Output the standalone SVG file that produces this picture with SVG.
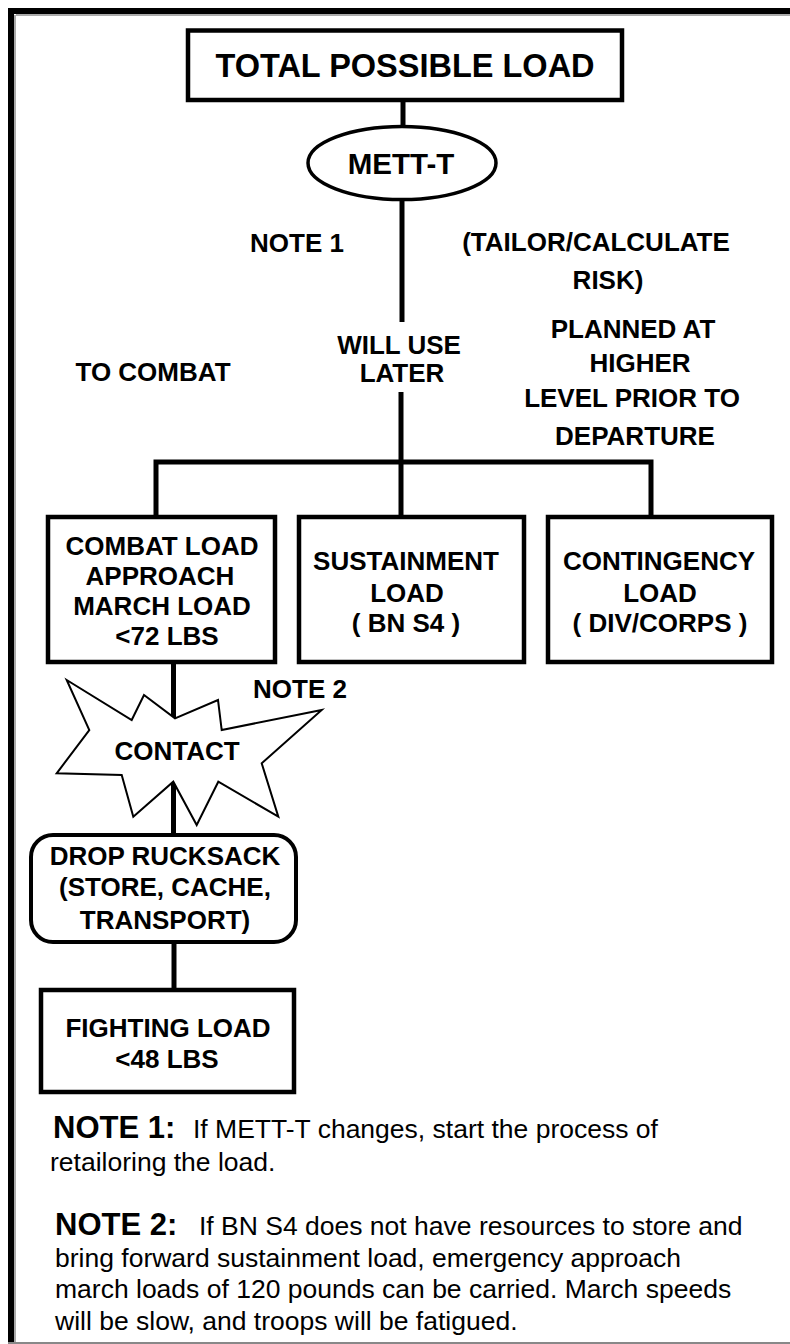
<svg xmlns="http://www.w3.org/2000/svg" width="790" height="1344" viewBox="0 0 790 1344">
<style>
.bx{fill:#fff;stroke:#000;stroke-width:4.5}
.cn{stroke:#000;stroke-width:5;fill:none}
.lb{font-family:"Liberation Sans",Arial,sans-serif;font-weight:bold;font-size:26px;fill:#000;text-anchor:middle}
.nt{font-family:"Liberation Sans",Arial,sans-serif;font-size:26.5px;fill:#000}
.nh{font-weight:bold;font-size:31px}
</style>
<rect width="790" height="1344" fill="#fff"/>
<g id="frame">
<line x1="16" y1="15" x2="790" y2="15" stroke="#aaa" stroke-width="2"/>
<line x1="15" y1="15" x2="15" y2="1344" stroke="#aaa" stroke-width="2"/>
<line x1="8" y1="11" x2="790" y2="11" stroke="#000" stroke-width="6"/>
<line x1="11" y1="8" x2="11" y2="1344" stroke="#000" stroke-width="6"/>
<line x1="8" y1="1343" x2="790" y2="1343" stroke="#888" stroke-width="2"/>
</g>
<g id="connectors">
<line class="cn" x1="403" y1="100" x2="403" y2="127"/>
<line class="cn" x1="402" y1="199" x2="402" y2="322"/>
<line class="cn" x1="401" y1="392" x2="401" y2="462"/>
<polyline class="cn" points="156,517 156,462 651,462 651,517"/>
<line class="cn" x1="401" y1="462" x2="401" y2="517"/>
<line class="cn" x1="173.5" y1="662" x2="173.5" y2="719"/>
<line class="cn" x1="173.5" y1="781" x2="173.5" y2="835"/>
<line class="cn" x1="174" y1="942" x2="174" y2="990"/>
</g>
<g id="total">
<rect class="bx" x="188" y="30.5" width="434" height="69.5"/>
<text class="lb" x="405" y="77" style="font-size:32.5px">TOTAL POSSIBLE LOAD</text>
</g>
<g id="mett">
<ellipse cx="402" cy="163" rx="94" ry="36.5" fill="#fff" stroke="#000" stroke-width="3.5"/>
<text class="lb" x="401" y="174" style="font-size:29.5px">METT-T</text>
</g>
<g id="labels">
<text class="lb" x="297" y="252">NOTE 1</text>
<text class="lb" x="596" y="251">(TAILOR/CALCULATE</text>
<text class="lb" x="608" y="289">RISK)</text>
<text class="lb" x="399" y="354">WILL USE</text>
<text class="lb" x="402" y="382">LATER</text>
<text class="lb" x="153" y="381">TO COMBAT</text>
<text class="lb" x="633" y="338">PLANNED AT</text>
<text class="lb" x="640" y="372">HIGHER</text>
<text class="lb" x="632" y="407">LEVEL PRIOR TO</text>
<text class="lb" x="635" y="445">DEPARTURE</text>
<text class="lb" x="300" y="698">NOTE 2</text>
</g>
<g id="combat">
<rect class="bx" x="48" y="517" width="227" height="145"/>
<text class="lb" x="162" y="555">COMBAT LOAD</text>
<text class="lb" x="160" y="585">APPROACH</text>
<text class="lb" x="162" y="615">MARCH LOAD</text>
<text class="lb" x="167" y="645">&lt;72 LBS</text>
</g>
<g id="sustainment">
<rect class="bx" x="299" y="517" width="225" height="145"/>
<text class="lb" x="406" y="570">SUSTAINMENT</text>
<text class="lb" x="407" y="602">LOAD</text>
<text class="lb" x="406" y="632">( BN S4 )</text>
</g>
<g id="contingency">
<rect class="bx" x="548" y="517" width="224" height="145"/>
<text class="lb" x="659" y="570">CONTINGENCY</text>
<text class="lb" x="660" y="602">LOAD</text>
<text class="lb" x="660" y="632">( DIV/CORPS )</text>
</g>
<g id="contact">
<polygon points="66.7,680 131.7,720 144,695 175,718.3 218,700 221.7,730 321.7,710 261.7,763.3 278.3,816.7 218.3,781.7 196.7,825 173.3,781.7 133.3,816.7 121.7,775 56.7,773.3 89.3,730" fill="#fff" stroke="#000" stroke-width="2" stroke-linejoin="miter"/>
<text class="lb" x="177" y="760">CONTACT</text>
</g>
<g id="drop">
<rect class="bx" x="31" y="835" width="265" height="107" rx="22" ry="22" style="stroke-width:4"/>
<text class="lb" x="165" y="865">DROP RUCKSACK</text>
<text class="lb" x="165" y="896">(STORE, CACHE,</text>
<text class="lb" x="165" y="929">TRANSPORT)</text>
</g>
<g id="fighting">
<rect class="bx" x="41" y="990" width="253" height="102"/>
<text class="lb" x="168" y="1037">FIGHTING LOAD</text>
<text class="lb" x="167" y="1068">&lt;48 LBS</text>
</g>
<g id="notes">
<text class="nt" x="53" y="1138"><tspan class="nh">NOTE 1:</tspan><tspan x="193">If METT-T changes, start the process of</tspan></text>
<text class="nt" x="50" y="1171">retailoring the load.</text>
<text class="nt" x="55" y="1235"><tspan class="nh">NOTE 2:</tspan><tspan x="199">If BN S4 does not have resources to store and</tspan></text>
<text class="nt" x="55" y="1267">bring forward sustainment load, emergency approach</text>
<text class="nt" x="55" y="1298">march loads of 120 pounds can be carried. March speeds</text>
<text class="nt" x="55" y="1330">will be slow, and troops will be fatigued.</text>
</g>
</svg>
